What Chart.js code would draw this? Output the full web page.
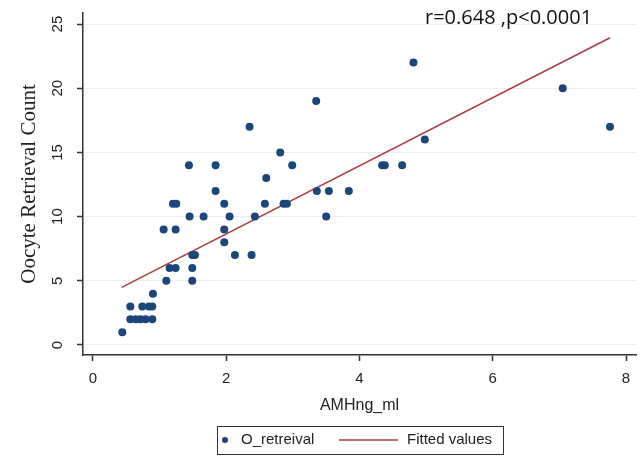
<!DOCTYPE html>
<html>
<head>
<meta charset="utf-8">
<script src="https://cdn.jsdelivr.net/npm/chart.js@4.4.0/dist/chart.umd.min.js"></script>
<style>
  body { margin: 0; background: #fff; }
  #wrap { width: 640px; height: 456px; }
</style>
</head>
<body>
<div id="wrap"><canvas id="amh" width="640" height="456"></canvas></div>
<script>
// AMH (ng/ml) vs oocytes retrieved
const amhX = [
    0.44,
    0.56, 0.64, 0.71, 0.79, 0.89,
    0.56, 0.74, 0.84, 0.89,
    0.90,
    1.10, 1.49,
    1.15, 1.24, 1.49,
    1.49, 1.53, 2.13, 2.38,
    1.97,
    1.06, 1.24, 1.97,
    1.45, 1.66, 2.05, 2.43, 3.50,
    1.20, 1.25, 1.97, 2.58, 2.86, 2.91,
    1.84, 3.36, 3.54, 3.84,
    2.60,
    1.44, 1.84, 2.99, 4.34, 4.38, 4.64,
    2.81,
    4.98,
    2.35, 7.76,
    3.35,
    7.05,
    4.81
];
const oocyteY = [
    1,
    2, 2, 2, 2, 2,
    3, 3, 3, 3,
    4,
    5, 5,
    6, 6, 6,
    7, 7, 7, 7,
    8,
    9, 9, 9,
    10, 10, 10, 10, 10,
    11, 11, 11, 11, 11, 11,
    12, 12, 12, 12,
    13,
    14, 14, 14, 14, 14, 14,
    15,
    16,
    17, 17,
    19,
    20,
    22
];
// fitted line end points
const fitX = [0.43, 7.76];
const fitY = [4.49, 23.93];

const xTicks = [0, 2, 4, 6, 8];
const yTicks = [0, 5, 10, 15, 20, 25];
const statText = 'r=0.648 ,p<0.0001';

const dotColor = '#1b4679';
const lineColor = '#ad3b3f';

const extras = {
    id: 'extras',
    afterDraw(chart) {
        const ctx = chart.ctx;
        const ys = chart.scales.y;

        // y tick labels, rotated like Stata does
        ctx.save();
        ctx.fillStyle = '#222';
        ctx.font = '15px "Liberation Sans", Arial, sans-serif';
        ctx.textAlign = 'center';
        ctx.textBaseline = 'middle';
        ys.ticks.forEach(t => {
            ctx.save();
            ctx.translate(58, ys.getPixelForValue(t.value));
            ctx.rotate(-Math.PI / 2);
            ctx.fillText(String(t.value), 0, 0);
            ctx.restore();
        });
        ctx.restore();

        // r / p annotation
        ctx.save();
        ctx.fillStyle = '#111';
        ctx.font = '20px "Open Sans", sans-serif';
        ctx.textAlign = 'left';
        ctx.textBaseline = 'middle';
        ctx.fillText(statText, 425, 18);
        ctx.restore();

        // legend box
        const ds = chart.data.datasets;
        const top = 426, bottom = 454, left = 217, right = 503;
        const cy = (top + bottom) / 2;
        ctx.save();
        ctx.strokeStyle = '#333';
        ctx.lineWidth = 1;
        ctx.strokeRect(left + 0.5, top + 0.5, right - left, bottom - top);
        ctx.fillStyle = dotColor;
        ctx.beginPath();
        ctx.arc(left + 8, cy, 3, 0, Math.PI * 2);
        ctx.fill();
        ctx.fillStyle = '#222';
        ctx.font = '15px "Liberation Sans", Arial, sans-serif';
        ctx.textBaseline = 'middle';
        ctx.fillText(ds[0].label, left + 24, cy);
        ctx.strokeStyle = lineColor;
        ctx.lineWidth = 1.5;
        ctx.beginPath();
        ctx.moveTo(339, cy);
        ctx.lineTo(398, cy);
        ctx.stroke();
        ctx.fillText(ds[1].label, 407, cy);
        ctx.restore();
    }
};

new Chart(document.getElementById('amh'), {
    type: 'scatter',
    data: {
        datasets: [
            {
                label: 'O_retreival',
                data: amhX.map((x, i) => ({x: x, y: oocyteY[i]})),
                backgroundColor: dotColor,
                borderWidth: 0,
                pointRadius: 4,
                pointHoverRadius: 4
            },
            {
                label: 'Fitted values',
                data: fitX.map((x, i) => ({x: x, y: fitY[i]})),
                showLine: true,
                borderColor: lineColor,
                borderWidth: 1.5,
                pointRadius: 0
            }
        ]
    },
    options: {
        responsive: false,
        animation: false,
        devicePixelRatio: 1,
        layout: {
            padding: {top: 13, right: 2, left: 0, bottom: 40}
        },
        scales: {
            x: {
                type: 'linear',
                min: -0.15,
                max: 8.15,
                afterBuildTicks: (s) => { s.ticks = xTicks.map(v => ({value: v})); },
                afterFit: (s) => { s.height = 61; },
                grid: {
                    drawOnChartArea: false,
                    drawTicks: true,
                    tickLength: 6,
                    tickColor: '#333',
                    tickWidth: 1.5
                },
                border: {display: true, color: '#333', width: 1.5},
                ticks: {
                    color: '#222',
                    padding: 9,
                    maxRotation: 0,
                    font: {family: '"Liberation Sans", Arial, sans-serif', size: 15}
                },
                title: {
                    display: true,
                    text: 'AMHng_ml',
                    color: '#222',
                    padding: {top: 0, bottom: 1},
                    font: {family: '"Liberation Sans", Arial, sans-serif', size: 16}
                }
            },
            y: {
                type: 'linear',
                min: -0.78,
                max: 25.86,
                afterBuildTicks: (s) => { s.ticks = yTicks.map(v => ({value: v})); },
                afterFit: (s) => { s.width = 83; },
                grid: {
                    color: '#e6eff2',
                    lineWidth: 1,
                    drawTicks: true,
                    tickLength: 6,
                    tickColor: '#333',
                    tickWidth: 1.5
                },
                border: {display: true, color: '#333', width: 1.5},
                ticks: {display: false},
                title: {
                    display: true,
                    text: 'Oocyte Retrieval Count',
                    color: '#222',
                    padding: {top: 17, bottom: 0},
                    font: {family: '"Liberation Serif", "Times New Roman", serif', size: 21}
                }
            }
        },
        plugins: {
            legend: {display: false},
            tooltip: {enabled: false}
        }
    },
    plugins: [extras]
});
</script>
</body>
</html>
